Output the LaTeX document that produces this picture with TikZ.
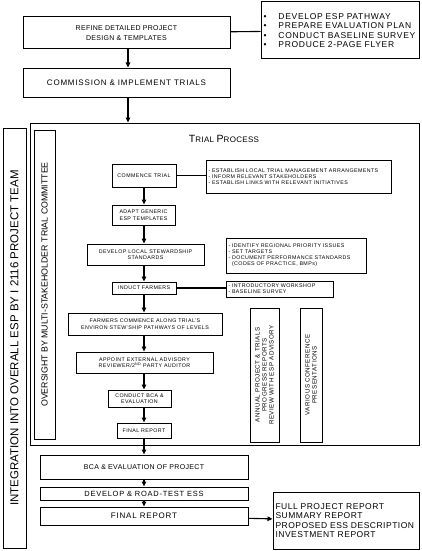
\documentclass[tikz,border=0pt]{standalone}
\usepackage{fontspec}
\setmainfont{Liberation Sans}
\usetikzlibrary{arrows.meta}
\newcommand{\fs}[3]{\fontsize{#1}{#2}\selectfont\addfontfeature{LetterSpace=#3}}
\begin{document}
\begin{tikzpicture}[x=1pt,y=-1pt,
  box/.style={draw,line width=1pt,inner sep=0pt,align=center},
  big/.style={font=\fs{7}{10}{4}},
  small/.style={font=\fs{5.3}{6.5}{8}},
  smalllist/.style={font=\fs{5.3}{6}{8},align=left},
  vert/.style={font=\fs{6.2}{7}{8}},
  arr/.style={line width=1.1pt,-{Triangle[length=5pt,width=4.5pt]}},
  conn/.style={line width=1.1pt}]
\useasboundingbox (0,0) rectangle (422,551);
% top part
\node[box,big,minimum width=207pt,minimum height=32pt] (refine) at (126.5,33) {REFINE DETAILED PROJECT\\DESIGN \& TEMPLATES};
\node[box,minimum width=158pt,minimum height=57pt,font=\fs{8.5}{9.2}{8},align=left,text width=153pt] (bullets) at (340,30.5)
 {\makebox[15pt][l]{\textbullet}DEVELOP ESP PATHWAY\\
  \makebox[15pt][l]{\textbullet}PREPARE EVALUATION PLAN\\
  \makebox[15pt][l]{\textbullet}CONDUCT BASELINE SURVEY\\
  \makebox[15pt][l]{\textbullet}PRODUCE 2-PAGE FLYER};
\node[box,minimum width=207pt,minimum height=29pt,font=\fs{8}{10}{10}] (commission) at (126.5,82.5) {COMMISSION \& IMPLEMENT TRIALS};
\node[box,minimum width=389pt,minimum height=322pt] (trial) at (224.5,284) {};
\node[box,rotate=90,minimum width=420pt,minimum height=23pt,font=\fs{11.5}{14}{0}] (integ) at (14.5,338) {INTEGRATION INTO OVERALL ESP BY I 2116 PROJECT TEAM};
\node[box,rotate=90,minimum width=309pt,minimum height=21pt,font=\fs{8.8}{12}{0}] (oversight) at (44.5,284.5) {OVERSIGHT BY MULTI-STAKEHOLDER TRIAL COMMITTEE};
\node[inner sep=0pt] (title) at (224,139) {\fs{10.5}{11}{4}T\fs{8}{8}{4}RIAL \fs{10.5}{11}{4}P\fs{8}{8}{4}ROCESS};
% trial process column
\coordinate (col) at (144,0);
\node[box,small,minimum width=64pt,minimum height=23pt] (commence) at (144,175.5) {COMMENCE TRIAL};
\node[box,smalllist,minimum width=185pt,minimum height=33pt,text width=180pt] (cinfo) at (298.5,176.5)
 {- ESTABLISH LOCAL TRIAL MANAGEMENT ARRANGEMENTS\\- INFORM RELEVANT STAKEHOLDERS\\- ESTABLISH LINKS WITH RELEVANT INITIATIVES};
\node[box,small,minimum width=63pt,minimum height=20pt] (adapt) at (143.5,215) {ADAPT GENERIC\\ESP TEMPLATES};
\node[box,small,minimum width=117pt,minimum height=21pt] (develop) at (145.5,254.5) {DEVELOP LOCAL STEWARDSHIP\\STANDARDS};
\node[box,smalllist,minimum width=140pt,minimum height=35pt,text width=135pt] (dinfo) at (296,255.5)
 {- IDENTIFY REGIONAL PRIORITY ISSUES\\- SET TARGETS\\- DOCUMENT PERFORMANCE STANDARDS\\\ \ (CODES OF PRACTICE, BMPs)};
\node[box,small,minimum width=64pt,minimum height=12pt] (induct) at (144,288) {INDUCT FARMERS};
\node[box,smalllist,minimum width=107pt,minimum height=16pt,text width=102pt] (iinfo) at (279.5,289)
 {- INTRODUCTORY WORKSHOP\\- BASELINE SURVEY};
\node[box,small,minimum width=154pt,minimum height=22pt] (farmers) at (145,324) {FARMERS COMMENCE ALONG TRIAL'S\\ENVIRON STEW'SHIP PATHWAYS OF LEVELS};
\node[box,small,minimum width=137pt,minimum height=21pt] (appoint) at (144.5,362.5) {APPOINT EXTERNAL ADVISORY\\REVIEWER/2\textsuperscript{ND} PARTY AUDITOR};
\node[box,small,minimum width=63pt,minimum height=17pt] (conduct) at (139.5,398.5) {CONDUCT BCA \&\\EVALUATION};
\node[box,small,minimum width=54pt,minimum height=15pt] (fsmall) at (144,430.5) {FINAL REPORT};
\node[box,vert,rotate=90,minimum width=134pt,minimum height=29pt] (annual) at (264.5,375) {ANNUAL PROJECT \& TRIALS\\PROGRESS REPORTS\\REVIEW WITH ESP ADVISORY};
\node[box,vert,rotate=90,minimum width=134pt,minimum height=22pt] (various) at (311,375) {VARIOUS CONFERENCE\\PRESENTATIONS};
% bottom part
\node[box,minimum width=208pt,minimum height=24pt,font=\fs{7}{10}{5}] (bca) at (144,467) {BCA \& EVALUATION OF PROJECT};
\node[box,minimum width=208pt,minimum height=13pt,font=\fs{7.5}{10}{10}] (ess) at (144,493.5) {DEVELOP \& ROAD-TEST ESS};
\node[box,minimum width=208pt,minimum height=18pt,font=\fs{8}{10}{10}] (final) at (144,516) {FINAL REPORT};
\node[box,minimum width=146pt,minimum height=57pt,font=\fs{8.5}{9.4}{6},align=left,text width=141pt] (output) at (346,520.5)
 {FULL PROJECT REPORT\\SUMMARY REPORT\\PROPOSED ESS DESCRIPTION\\INVESTMENT REPORT};
% connectors
\coordinate (topcol) at (128,0);
\draw[conn] (refine) -- (bullets);
\draw[arr] (refine.south -| topcol) -- (commission.north -| topcol);
\draw[arr] (commission.south -| topcol) -- (trial.north -| topcol);
\draw[conn] (commence) -- (cinfo.west |- commence);
\draw[arr] (commence.south -| col) -- (adapt.north -| col);
\draw[arr] (adapt.south -| col) -- (develop.north -| col);
\draw[arr] (develop.south -| col) -- (induct.north -| col);
\draw[conn] (induct) -- (iinfo.west |- induct);
\draw[arr] (induct.south -| col) -- (farmers.north -| col);
\draw[arr] (farmers.south -| col) -- (appoint.north -| col);
\draw[arr] (appoint.south -| col) -- (conduct.north -| col);
\draw[arr] (conduct.south -| col) -- (fsmall.north -| col);
\draw[arr] (fsmall.south -| col) -- (bca.north -| col);
\draw[arr] (bca.south -| col) -- (ess.north -| col);
\draw[arr] (ess.south -| col) -- (final.north -| col);
\draw[arr] (final) -- (output);
\end{tikzpicture}
\end{document}
